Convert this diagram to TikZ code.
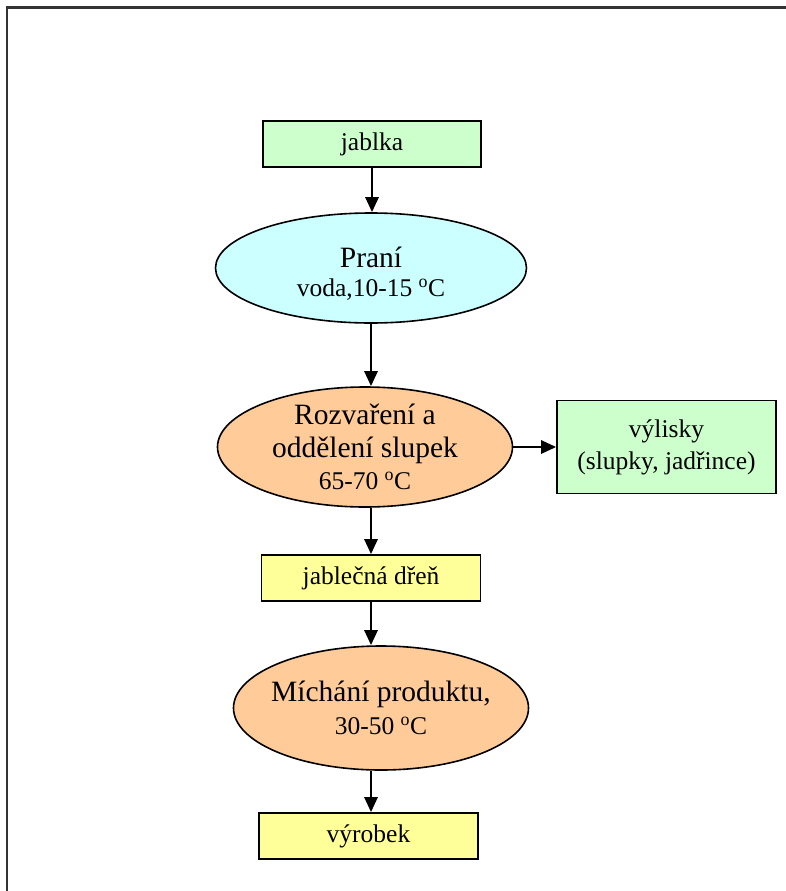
\documentclass[tikz,border=0pt]{standalone}
\usepackage{fontspec}
\setmainfont{Liberation Serif}
\usetikzlibrary{shapes.geometric,arrows.meta}
\definecolor{boxgreen}{HTML}{CCFFCC}
\definecolor{boxcyan}{HTML}{CCFFFF}
\definecolor{boxorange}{HTML}{FFCC99}
\definecolor{boxyellow}{HTML}{FFFF99}
\definecolor{framegray}{HTML}{333333}
\newcommand{\bigtxt}{\fontsize{29.5}{33}\selectfont}
\newcommand{\smalltxt}{\fontsize{25.5}{32}\selectfont}
\tikzset{
  box/.style={draw, line width=1.6pt, rectangle, inner sep=0pt, font=\smalltxt, align=center},
  oval/.style={draw, line width=1.6pt, ellipse, inner sep=-10pt, font=\bigtxt, align=center},
  flow/.style={line width=2.7pt, -{Triangle[length=15pt,width=13pt]}}
}
\begin{document}
\begin{tikzpicture}[x=1pt, y=-1pt]
  \useasboundingbox (0,0) rectangle (786,891);
  \draw[framegray, line width=2.5pt] (7,891) -- (7,7.5) -- (786,7.5);
  \node[box, fill=boxgreen, minimum width=218, minimum height=46] (jablka) at (372,144) {jablka};
  \node[oval, fill=boxcyan, minimum width=311, minimum height=110] (prani) at (371,268)
    {\rule{0pt}{32pt}Praní\\[-4pt]{\smalltxt voda,10-15 \textsuperscript{o}C}};
  \node[oval, fill=boxorange, minimum width=295, minimum height=120] (rozvar) at (365,447)
    {Rozvaření a\\oddělení slupek\\[-1pt]{\smalltxt 65-70 \textsuperscript{o}C}};
  \node[box, fill=boxgreen, minimum width=219, minimum height=93] (vylisky) at (666.5,447)
    {výlisky\\(slupky, jadřince)};
  \node[box, fill=boxyellow, minimum width=219, minimum height=46] (dren) at (371,578) {jablečná dřeň};
  \node[oval, fill=boxorange, minimum width=295, minimum height=124] (michani) at (381,708)
    {Míchání produktu,\\{\smalltxt 30-50 \textsuperscript{o}C}};
  \node[box, fill=boxyellow, minimum width=219, minimum height=46] (vyrobek) at (368.5,836) {výrobek};
  \draw[flow] (jablka.south) -- (jablka.south |- prani.north);
  \draw[flow] (prani.south) -- (prani.south |- rozvar.north);
  \draw[flow] (rozvar.east) -- (vylisky.west);
  \draw[flow] (dren.north |- rozvar.south) -- (dren.north);
  \draw[flow] (dren.south) -- (dren.south |- michani.north);
  \draw[flow] (dren.south |- michani.south) -- (dren.south |- vyrobek.north);
\end{tikzpicture}
\end{document}
